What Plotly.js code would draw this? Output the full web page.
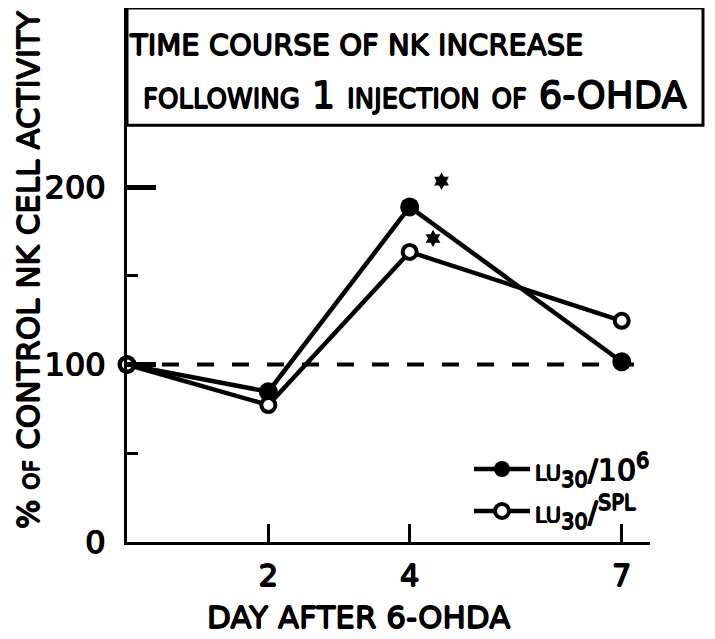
<!DOCTYPE html>
<html>
<head>
<meta charset="utf-8">
<script src="https://cdn.plot.ly/plotly-3.0.1.min.js"></script>
<style>html,body{margin:0;padding:0;background:#fff;}</style>
</head>
<body>
<div id="chart" style="width:715px;height:639px;"></div>
<script>
// ---- data ----
const days = [0, 2, 4, 7];
const luPer10e6 = [100, 84.7, 188.9, 101.6];   // filled circles
const luPerSpleen = [100, 77.2, 163.5, 124.7]; // open circles
const sigX = [4.45, 4.33];                     // significance marks
const sigY = [203.4, 171.1];
const xTickVals = [2, 4, 7];
const xTickText = ['2', '4', '7'];
const yTickVals = [0, 100, 200];
const yTickText = ['0', '100', '200'];
const yMinorVals = [50, 150];
const controlLevel = 100;

const FONT = '"DejaVu Sans", "Liberation Sans", sans-serif';
const INK = '#000';
// thickens the thin strokes to resemble the heavy typewriter lettering
const HEAVY = '0.7px 0 0 #000, -0.7px 0 0 #000, 0 0.7px 0 #000, 0 -0.7px 0 #000';
const f = (size, extra) => Object.assign({family: FONT, size: size, color: INK, shadow: HEAVY}, extra || {});

// plot area in pixels: x 127..650, y 8..542
const PW = 523, PH = 534;

const traces = [
  {
    x: days, y: luPer10e6, mode: 'lines+markers',
    name: 'lu<sub>30</sub>/10<sup>6</sup>', legendgroup: 'a',
    line: {color: INK, width: 4.5},
    marker: {symbol: 'circle', size: 19, color: INK, line: {width: 0}},
    cliponaxis: false
  },
  {
    x: days, y: luPerSpleen, mode: 'lines+markers',
    name: 'lu<sub>30</sub>/<sup>SPL</sup>', legendgroup: 'b',
    line: {color: INK, width: 4.5},
    marker: {symbol: 'circle', size: 14, color: '#fff', line: {color: INK, width: 4}},
    cliponaxis: false
  },
  {
    x: sigX, y: sigY, mode: 'markers', showlegend: false, hoverinfo: 'skip',
    marker: {symbol: 'hexagram', size: 13, color: INK, line: {width: 0}}
  }
];

const layout = {
  width: 715, height: 639,
  margin: {l: 127, r: 65, t: 8, b: 97},
  paper_bgcolor: '#fff', plot_bgcolor: '#fff',
  font: f(26),
  title: {
    text: 'TIME COURSE OF NK INCREASE',
    font: f(29),
    xref: 'container', x: 130/715, xanchor: 'left',
    yref: 'container', y: 1 - 45/639, yanchor: 'middle'
  },
  xaxis: {
    range: [0, 7.40], showgrid: false, zeroline: false,
    showline: true, linecolor: INK, linewidth: 3,
    tickmode: 'array', tickvals: xTickVals, ticktext: xTickText,
    ticks: 'inside', ticklen: 18, tickwidth: 3.5, tickcolor: INK,
    ticklabelstandoff: 4,
    tickfont: f(31)
  },
  yaxis: {
    range: [0, 301], showgrid: false, zeroline: false,
    showline: true, linecolor: INK, linewidth: 3,
    tickmode: 'array', tickvals: yTickVals, ticktext: yTickText,
    ticks: 'inside', ticklen: 29, tickwidth: 5, tickcolor: INK,
    ticklabelstandoff: 12,
    tickfont: f(32),
    minor: {tickmode: 'array', tickvals: yMinorVals, ticks: 'inside', ticklen: 11, tickwidth: 3, tickcolor: INK}
  },
  showlegend: true,
  legend: {
    x: (469 - 127) / PW, xanchor: 'left', y: (542 - 443) / PH, yanchor: 'top',
    bgcolor: 'rgba(0,0,0,0)', borderwidth: 0, itemwidth: 56,
    traceorder: 'grouped', tracegroupgap: 0,
    font: f(30, {variant: 'small-caps'})
  },
  shapes: [
    // title box across the top of the plot
    {type: 'rect', xref: 'paper', yref: 'y', x0: 0, x1: (703 - 127) / PW, y0: 234.9, y1: 301,
     line: {color: INK, width: 3}, fillcolor: 'rgba(0,0,0,0)'},
    // dashed control line
    {type: 'line', xref: 'paper', yref: 'y', x0: 0, x1: 1, y0: controlLevel, y1: controlLevel,
     line: {color: INK, width: 4, dash: '17px,18px'}}
  ],
  annotations: [
    {text: 'following 1 injection of 6-OHDA',
     xref: 'paper', yref: 'paper', x: (141 - 127) / PW, xanchor: 'left', y: (542 - 96) / PH, yanchor: 'middle',
     showarrow: false, font: f(37, {variant: 'small-caps'})},
    {text: 'DAY AFTER 6-OHDA',
     xref: 'paper', yref: 'paper', x: (358 - 127) / PW, xanchor: 'center', y: (542 - 617) / PH, yanchor: 'middle',
     showarrow: false, font: f(31)},
    {text: '% of CONTROL NK CELL ACTIVITY', textangle: -90,
     xref: 'paper', yref: 'paper', x: (28 - 127) / PW, xanchor: 'center', y: (542 - 270) / PH, yanchor: 'middle',
     showarrow: false, font: f(31, {variant: 'small-caps'})}
  ]
};

Plotly.newPlot('chart', traces, layout, {displayModeBar: false, staticPlot: true});
</script>
</body>
</html>
